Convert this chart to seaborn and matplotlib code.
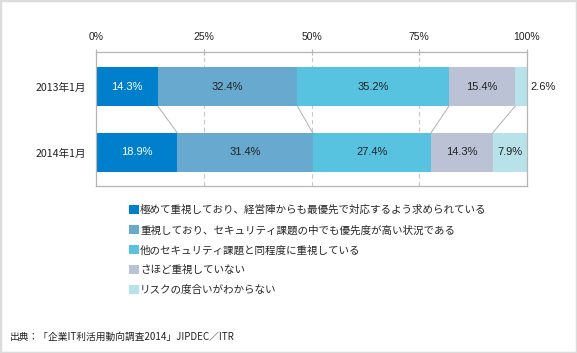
import matplotlib
matplotlib.use("Agg")
import matplotlib.pyplot as plt
import matplotlib.patches as mpatches
import seaborn as sns
import pandas as pd
import numpy as np

categories = ["2013年1月", "2014年1月"]
series_names = [
    "極めて重視しており、経営陣からも最優先で対応するよう求められている",
    "重視しており、セキュリティ課題の中でも優先度が高い状況である",
    "他のセキュリティ課題と同程度に重視している",
    "さほど重視していない",
    "リスクの度合いがわからない",
]
s1 = [14.3, 18.9]
s2 = [32.4, 31.4]
s3 = [35.2, 27.4]
s4 = [15.4, 14.3]
s5 = [2.6, 7.9]
xticks = [0, 25, 50, 75, 100]
xtick_labels = ["0%", "25%", "50%", "75%", "100%"]
source = "出典：「企業IT利活用動向調査2014」JIPDEC／ITR"

colors = ["#0080CC", "#68A9CF", "#58C3E0", "#BCC2D5", "#B8E2EA"]
text_colors = ["white", "#222222", "#222222", "#222222", "#222222"]

sns.set_theme(style="white")
plt.rcParams["font.family"] = ["Noto Sans CJK JP", "DejaVu Sans"]

series = [s1, s2, s3, s4, s5]
vals = np.array(series)
cum = np.cumsum(vals, axis=0)

fig = plt.figure(figsize=(5.77, 3.53), dpi=100)
ax = fig.add_axes([96/577, 1-186/353, 431/577, 134/353])

bar_w = 0.59
# draw layered cumulative bars, last first
for i in range(len(series) - 1, -1, -1):
    df = pd.DataFrame({"cat": categories, "val": cum[i]})
    sns.barplot(data=df, y="cat", x="val", orient="h", color=colors[i],
                saturation=1, width=bar_w, ax=ax, linewidth=0)

ax.set_xlim(0, 100)
ax.set_ylim(1.508, -0.523)

# connectors
for i in range(len(series) - 1):
    ax.plot([cum[i][0], cum[i][1]], [0 + bar_w/2, 1 - bar_w/2],
            color="#b0b0b0", lw=0.7, zorder=1)

num_font = ["Liberation Sans", "DejaVu Sans"]
# labels
for i in range(len(series)):
    for j in range(len(categories)):
        v = vals[i][j]
        start = cum[i][j] - v
        if v < 5:
            ax.text(cum[i][j] + 0.8, j, f"{v:.1f}%", ha="left", va="center",
                    fontsize=8, color="#222222", family=num_font)
        else:
            ax.text(start + v/2, j, f"{v:.1f}%", ha="center", va="center",
                    fontsize=8, color=text_colors[i], family=num_font)

# axes styling
ax.xaxis.tick_top()
ax.set_xticks(xticks)
ax.set_xticklabels(xtick_labels, fontsize=7.5, color="#222222", family=num_font)
ax.tick_params(axis="x", length=4, width=0.8, color="#b5b5b5", pad=5, direction="inout")
ax.set_yticks([0, 1])
ax.set_yticklabels(categories, fontsize=7.6, color="#222222")
ax.tick_params(axis="y", length=0, pad=7)
ax.set_yticks([0.5], minor=True)
ax.tick_params(axis="y", which="minor", length=4, width=0.8, color="#b5b5b5", direction="out")
ax.set_xlabel("")
ax.set_ylabel("")
for x in [25, 50, 75]:
    ax.axvline(x, color="#c8c8c8", lw=0.8, ls=(0, (4, 3)), zorder=0)
for side in ["top", "bottom", "left", "right"]:
    ax.spines[side].set_visible(True)
    ax.spines[side].set_color("#b5b5b5")
    ax.spines[side].set_linewidth(0.9)
ax.grid(False)
for b in ax.patches:
    b.set_zorder(2)

# legend
handles = [mpatches.Patch(facecolor=c, edgecolor="none") for c in colors]
fig.legend(handles, series_names, loc="upper left",
           bbox_to_anchor=(129/577, 1-205/353), frameon=False, fontsize=7.6,
           handlelength=0.9, handleheight=0.9, handletextpad=0.15,
           labelspacing=0.93, borderpad=0, borderaxespad=0)

fig.text(10/577, 1-337/353, source, fontsize=7, va="center", ha="left", color="#222222")

fig.patches.append(mpatches.Rectangle((0, 0), 1, 1, transform=fig.transFigure,
                                      fill=False, edgecolor="#dcdcdc", lw=2.5))
fig.savefig("out.png", dpi=100)
